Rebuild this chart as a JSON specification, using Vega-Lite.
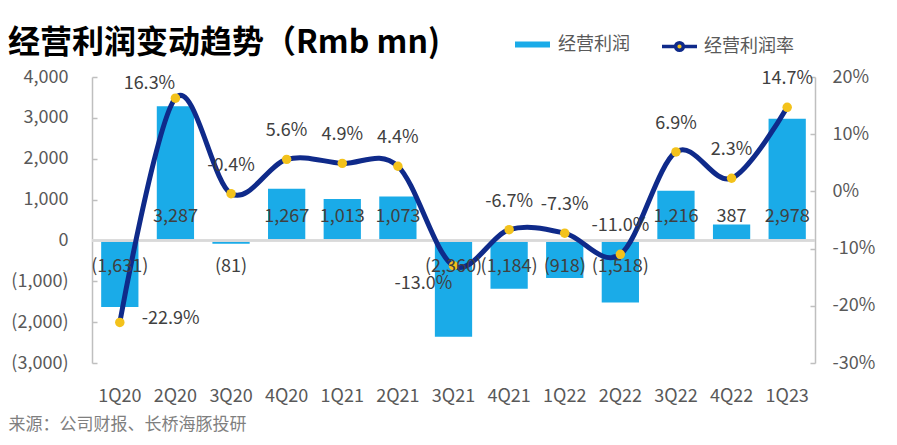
{
"$schema": "https://vega.github.io/schema/vega-lite/v6.json",
"width": 723,
"height": 286,
"autosize": {"type": "none"},
"padding": {"left": 92, "top": 77, "right": 82, "bottom": 82},
"background": "white",
"config": {
  "view": {"stroke": null},
  "font": "Noto Sans CJK SC",
  "locale": {"number": {"decimal": ".", "thousands": ",", "grouping": [3], "currency": ["$", ""], "minus": "-"}}
},
"title": {"text": "经营利润变动趋势（Rmb mn)", "anchor": "start", "frame": "group", "dx": -84, "offset": -33, "fontSize": 32, "fontWeight": "bold", "color": "#000000", "font": "Noto Sans CJK SC"},
"data": {"values": [
  {"q": "1Q20", "op": -1631, "m": -0.229},
  {"q": "2Q20", "op": 3287, "m": 0.163},
  {"q": "3Q20", "op": -81, "m": -0.004},
  {"q": "4Q20", "op": 1267, "m": 0.056},
  {"q": "1Q21", "op": 1013, "m": 0.049},
  {"q": "2Q21", "op": 1073, "m": 0.044},
  {"q": "3Q21", "op": -2360, "m": -0.130},
  {"q": "4Q21", "op": -1184, "m": -0.067},
  {"q": "1Q22", "op": -918, "m": -0.073},
  {"q": "2Q22", "op": -1518, "m": -0.110},
  {"q": "3Q22", "op": 1216, "m": 0.069},
  {"q": "4Q22", "op": 387, "m": 0.023},
  {"q": "1Q23", "op": 2978, "m": 0.147}
]},
"layer": [
  {
    "mark": {"type": "bar"},
    "encoding": {
      "x": {"field": "q", "type": "nominal", "sort": null, "scale": {"paddingInner": 0.33, "paddingOuter": 0.165},
        "axis": {"title": "来源：公司财报、长桥海豚投研", "titleAnchor": "start", "titleAlign": "left", "titleX": -84, "titleY": 61, "titleBaseline": "middle", "titleFontSize": 17, "titleFontWeight": "normal", "titleColor": "#7f7f7f",
          "labelAngle": 0, "domain": false, "ticks": false, "labelPadding": 24, "labelFontSize": 18, "labelColor": "#595959"}},
      "y": {"field": "op", "type": "quantitative", "scale": {"domain": [-3000, 4000], "nice": false, "zero": false},
        "axis": {"orient": "left", "title": null, "values": [-3000, -2000, -1000, 0, 1000, 2000, 3000, 4000], "format": "(,.0f", "grid": false,
          "domainColor": "#bfbfbf", "domainWidth": 1.5, "tickColor": "#bfbfbf", "tickWidth": 1.5, "tickSize": -5, "labelPadding": 29, "labelFontSize": 18, "labelColor": "#595959"}},
      "color": {"datum": "经营利润", "scale": {"range": ["#1AABE8"]},
        "legend": {"orient": "none", "legendX": 423, "legendY": -50, "title": null, "padding": 0, "symbolType": "M-1,-0.17H1V0.17H-1Z", "symbolSize": 1225, "symbolStrokeWidth": 0, "labelFontSize": 18, "labelColor": "#595959", "labelOffset": 8}}
    }
  },
  {
    "mark": {"type": "rule", "color": "#d9d9d9", "strokeWidth": 1.5},
    "encoding": {
      "y": {"datum": 0, "type": "quantitative", "scale": {"domain": [-3000, 4000], "nice": false, "zero": false}, "axis": null}
    }
  },
  {
    "mark": {"type": "line", "interpolate": "cardinal", "strokeWidth": 5},
    "encoding": {
      "x": {"field": "q", "type": "nominal", "sort": null},
      "y": {"field": "m", "type": "quantitative", "scale": {"domain": [-0.3, 0.2], "nice": false, "zero": false},
        "axis": {"orient": "right", "title": null, "values": [-0.3, -0.2, -0.1, 0, 0.1, 0.2], "format": ".0%", "grid": false,
          "domainColor": "#bfbfbf", "domainWidth": 1.5, "tickColor": "#bfbfbf", "tickWidth": 1.5, "tickSize": -5, "labelPadding": 22, "labelFontSize": 18, "labelColor": "#595959"}},
      "stroke": {"datum": "经营利润率", "scale": {"range": ["#0F2A8A"]},
        "legend": {"orient": "none", "legendX": 568, "legendY": -50, "title": null, "padding": 0, "symbolType": "M-1,0H-0.22M0.22,0H1M0.22,0A0.22,0.22 0 1 1 -0.22,0A0.22,0.22 0 1 1 0.22,0Z", "symbolSize": 1225, "symbolStrokeWidth": 3.5, "labelFontSize": 18, "labelColor": "#595959", "labelOffset": 5,
          "encode": {"symbols": {"update": {"fill": {"value": "#F3C21B"}, "stroke": {"value": "#0F2A8A"}}}}}}
    }
  },
  {
    "mark": {"type": "point", "filled": true, "color": "#F3C21B", "size": 90, "opacity": 1},
    "encoding": {
      "x": {"field": "q", "type": "nominal", "sort": null},
      "y": {"field": "m", "type": "quantitative", "scale": {"domain": [-0.3, 0.2], "nice": false, "zero": false}, "axis": null}
    }
  },
  {
    "transform": [{"filter": "datum.q != '1Q20' && datum.q != '2Q20' && datum.q != '3Q21'"}],
    "mark": {"type": "text", "fontSize": 18, "color": "#404040", "baseline": "middle", "dy": -28},
    "encoding": {
      "x": {"field": "q", "type": "nominal", "sort": null},
      "y": {"field": "m", "type": "quantitative", "scale": {"domain": [-0.3, 0.2], "nice": false, "zero": false}, "axis": null},
      "text": {"field": "m", "type": "quantitative", "format": ".1%"}
    }
  },
  {
    "transform": [{"filter": "datum.q == '1Q20'"}],
    "mark": {"type": "text", "fontSize": 18, "color": "#404040", "baseline": "middle", "align": "left", "dx": 22, "dy": -3},
    "encoding": {
      "x": {"field": "q", "type": "nominal", "sort": null},
      "y": {"field": "m", "type": "quantitative", "scale": {"domain": [-0.3, 0.2], "nice": false, "zero": false}, "axis": null},
      "text": {"field": "m", "type": "quantitative", "format": ".1%"}
    }
  },
  {
    "transform": [{"filter": "datum.q == '2Q20'"}],
    "mark": {"type": "text", "fontSize": 18, "color": "#404040", "baseline": "middle", "dx": -26, "dy": -14},
    "encoding": {
      "x": {"field": "q", "type": "nominal", "sort": null},
      "y": {"field": "m", "type": "quantitative", "scale": {"domain": [-0.3, 0.2], "nice": false, "zero": false}, "axis": null},
      "text": {"field": "m", "type": "quantitative", "format": ".1%"}
    }
  },
  {
    "transform": [{"filter": "datum.q == '3Q21'"}],
    "mark": {"type": "text", "fontSize": 18, "color": "#404040", "baseline": "middle", "dx": -30, "dy": 18},
    "encoding": {
      "x": {"field": "q", "type": "nominal", "sort": null},
      "y": {"field": "m", "type": "quantitative", "scale": {"domain": [-0.3, 0.2], "nice": false, "zero": false}, "axis": null},
      "text": {"field": "m", "type": "quantitative", "format": ".1%"}
    }
  },
  {
    "transform": [{"filter": "datum.op >= 0"}],
    "mark": {"type": "text", "fontSize": 18, "color": "#404040", "baseline": "middle", "dy": -23},
    "encoding": {
      "x": {"field": "q", "type": "nominal", "sort": null},
      "y": {"datum": 0, "type": "quantitative", "scale": {"domain": [-3000, 4000], "nice": false, "zero": false}, "axis": null},
      "text": {"field": "op", "type": "quantitative", "format": "(,.0f"}
    }
  },
  {
    "transform": [{"filter": "datum.op < 0"}],
    "mark": {"type": "text", "fontSize": 18, "color": "#404040", "baseline": "middle", "dy": 27},
    "encoding": {
      "x": {"field": "q", "type": "nominal", "sort": null},
      "y": {"datum": 0, "type": "quantitative", "scale": {"domain": [-3000, 4000], "nice": false, "zero": false}, "axis": null},
      "text": {"field": "op", "type": "quantitative", "format": "(,.0f"}
    }
  }
],
"resolve": {"scale": {"y": "independent", "stroke": "independent", "color": "independent"}, "axis": {"y": "independent"}}
}
